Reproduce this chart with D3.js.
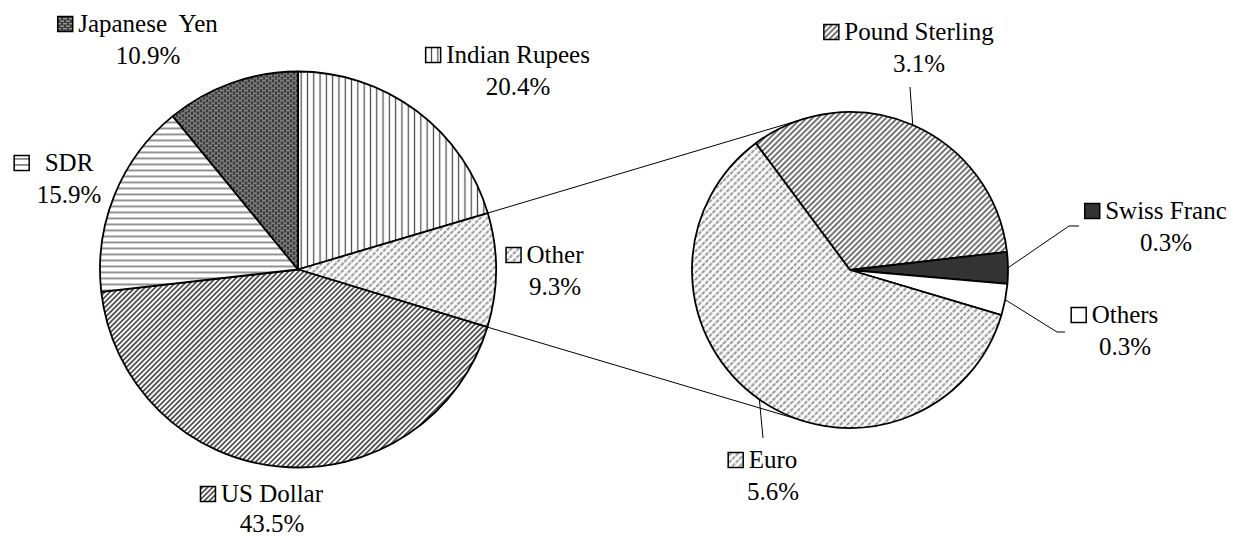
<!DOCTYPE html>
<html>
<head>
  <title>Currency composition - pie of pie</title>
  <script src="https://d3js.org/d3.v7.min.js"></script>
  <style>
    body { margin: 0; background: #fff; }
    svg text { font-family: "Times New Roman", Times, "Liberation Serif", serif; font-size: 25px; fill: #000; }
  </style>
</head>
<body>
  <div id="chart"></div>
  <script>
    // Main pie (clockwise from 12 o'clock)
    const mainNames = ["Indian Rupees", "Other", "US Dollar", "SDR", "Japanese  Yen"];
    const mainValues = [20.4, 9.3, 43.5, 15.9, 10.9];
    const mainFills = ["vert", "other", "usd", "horiz", "yen"];

    // Secondary pie, breakdown of "Other"
    const subNames = ["Pound Sterling", "Swiss Franc", "Others", "Euro"];
    const subValues = [3.1, 0.3, 0.3, 5.6];
    const subFills = ["pound", "solid", "white", "other"];

    const width = 1233, height = 536;

    const svg = d3.select("#chart").append("svg")
      .attr("width", width)
      .attr("height", height);

    // Fill patterns (approximating the Excel hatches)
    const defs = svg.append("defs");

    function linePattern(id, size, angle, stroke, sw, dash) {
      const p = defs.append("pattern")
        .attr("id", id)
        .attr("patternUnits", "userSpaceOnUse")
        .attr("width", size).attr("height", size);
      if (angle) p.attr("patternTransform", `rotate(${angle})`);
      p.append("rect").attr("width", size).attr("height", size).attr("fill", "#fff");
      const l = p.append("line")
        .attr("x1", size / 2).attr("x2", size / 2)
        .attr("y1", 0).attr("y2", size)
        .attr("stroke", stroke).attr("stroke-width", sw);
      if (dash) l.attr("stroke-dasharray", dash);
      return p;
    }

    linePattern("vert", 6.3, 0, "#444", 1.2);
    linePattern("usd", 3.6, 45, "#222", 1.4);
    linePattern("pound", 4, 45, "#2a2a2a", 1.3);
    linePattern("other", 5, 45, "#8a8a8a", 1.8, "2 1");

    const horiz = defs.append("pattern")
      .attr("id", "horiz")
      .attr("patternUnits", "userSpaceOnUse")
      .attr("width", 6).attr("height", 6);
    horiz.append("rect").attr("width", 6).attr("height", 6).attr("fill", "#fff");
    horiz.append("rect").attr("y", 2).attr("width", 6).attr("height", 1.8).attr("fill", "#888");

    const yen = defs.append("pattern")
      .attr("id", "yen")
      .attr("patternUnits", "userSpaceOnUse")
      .attr("width", 6).attr("height", 5);
    yen.append("rect").attr("width", 6).attr("height", 5).attr("fill", "#3a3a3a");
    yen.append("rect").attr("x", 0).attr("y", 0.5).attr("width", 4).attr("height", 1.4).attr("fill", "#9a9a9a");
    yen.append("rect").attr("x", 3).attr("y", 3).attr("width", 3).attr("height", 1.4).attr("fill", "#9a9a9a");
    yen.append("rect").attr("x", 0).attr("y", 3).attr("width", 1).attr("height", 1.4).attr("fill", "#9a9a9a");

    const fillOf = k => k === "solid" ? "#333" : k === "white" ? "#fff" : `url(#${k})`;

    // Geometry
    const main = { cx: 298, cy: 269.5, r: 198 };
    const sub = { cx: 850, cy: 270, r: 158 };
    const subStart = -36.6 * Math.PI / 180;

    const mainData = mainNames.map((n, i) => ({ name: n, value: mainValues[i], fill: mainFills[i] }));
    const subData = subNames.map((n, i) => ({ name: n, value: subValues[i], fill: subFills[i] }));

    const mainArcs = d3.pie().sort(null).value(d => d.value)(mainData);
    const subArcs = d3.pie().sort(null).value(d => d.value)
      .startAngle(subStart).endAngle(subStart + 2 * Math.PI)(subData);

    const mainArc = d3.arc().innerRadius(0).outerRadius(main.r);
    const subArc = d3.arc().innerRadius(0).outerRadius(sub.r);

    // Connector lines: from the edges of "Other" tangent to the secondary pie
    const other = mainArcs[1];
    const edge = a => [main.cx + main.r * Math.sin(a), main.cy - main.r * Math.cos(a)];
    function tangent(p, upper) {
      const dx = p[0] - sub.cx, dy = p[1] - sub.cy;
      const d = Math.hypot(dx, dy);
      const base = Math.atan2(dy, dx);
      const alpha = Math.acos(sub.r / d);
      const t = upper ? base + alpha : base - alpha;
      return [sub.cx + sub.r * Math.cos(t), sub.cy + sub.r * Math.sin(t)];
    }
    const pTop = edge(other.startAngle), pBot = edge(other.endAngle);
    const connectors = [[pTop, tangent(pTop, true)], [pBot, tangent(pBot, false)]];

    svg.append("g").selectAll("line")
      .data(connectors)
      .join("line")
        .attr("x1", d => d[0][0]).attr("y1", d => d[0][1])
        .attr("x2", d => d[1][0]).attr("y2", d => d[1][1])
        .attr("stroke", "#000").attr("stroke-width", 1);

    svg.append("g")
      .attr("transform", `translate(${main.cx},${main.cy})`)
      .selectAll("path")
      .data(mainArcs)
      .join("path")
        .attr("d", mainArc)
        .attr("fill", d => fillOf(d.data.fill))
        .attr("stroke", "#000")
        .attr("stroke-width", 1.8)
        .attr("stroke-linejoin", "round");

    svg.append("g")
      .attr("transform", `translate(${sub.cx},${sub.cy})`)
      .selectAll("path")
      .data(subArcs)
      .join("path")
        .attr("d", subArc)
        .attr("fill", d => fillOf(d.data.fill))
        .attr("stroke", "#000")
        .attr("stroke-width", 1.8)
        .attr("stroke-linejoin", "round");

    // Label placement (text centre x, first baseline, optional leader end points)
    const mainLabelPos = [
      { x: 518, y: 63 },
      { x: 555, y: 263 },
      { x: 272, y: 502, lh: 30 },
      { x: 69, y: 171, gap: 15 },
      { x: 148, y: 32 }
    ];
    const subLabelPos = [
      { x: 919, y: 40, leader: [[910, 87]] },
      { x: 1166, y: 219, leader: [[1069, 226], [1079, 226]] },
      { x: 1125, y: 323, leader: [[1057, 332], [1065, 332]] },
      { x: 773, y: 468, leader: [[763, 438]] }
    ];

    // Leader lines start on the rim at the slice mid-angle
    subArcs.forEach((a, i) => {
      const m = (a.startAngle + a.endAngle) / 2;
      const start = [sub.cx + sub.r * Math.sin(m), sub.cy - sub.r * Math.cos(m)];
      svg.append("path")
        .attr("d", d3.line()([start, ...subLabelPos[i].leader]))
        .attr("fill", "none")
        .attr("stroke", "#000")
        .attr("stroke-width", 1);
    });

    function drawLabel(d, pos) {
      const g = svg.append("g");
      const t1 = g.append("text")
        .attr("x", pos.x).attr("y", pos.y)
        .attr("text-anchor", "middle")
        .style("white-space", "pre")
        .text(d.name);
      g.append("text")
        .attr("x", pos.x).attr("y", pos.y + (pos.lh || 31.5))
        .attr("text-anchor", "middle")
        .text(d.value.toFixed(1) + "%");
      const w = t1.node().getComputedTextLength();
      const gap = pos.gap || 5;
      g.append("rect")
        .attr("x", pos.x - w / 2 - gap - 15.5)
        .attr("y", pos.y - 15.5)
        .attr("width", 15)
        .attr("height", 15)
        .attr("fill", fillOf(d.fill))
        .attr("stroke", "#000")
        .attr("stroke-width", 1.5);
    }

    mainData.forEach((d, i) => drawLabel(d, mainLabelPos[i]));
    subData.forEach((d, i) => drawLabel(d, subLabelPos[i]));
  </script>
</body>
</html>
